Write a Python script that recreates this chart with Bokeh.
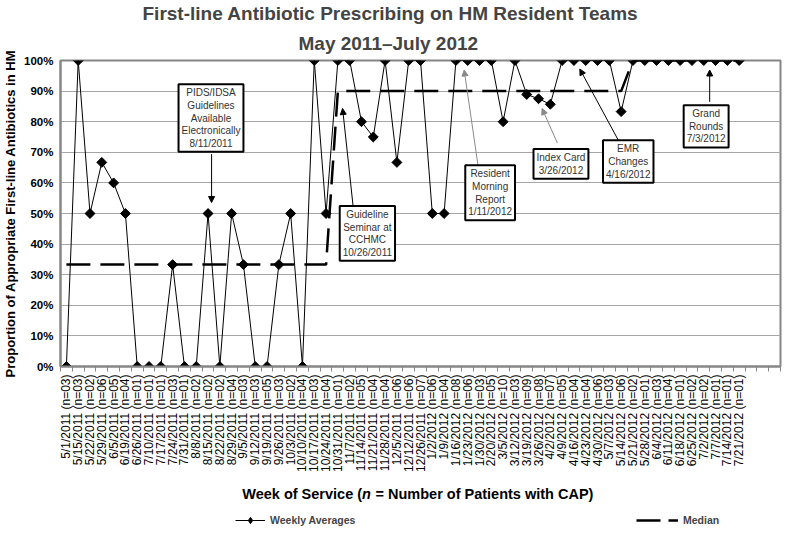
import numpy as np
from bokeh.plotting import figure
from bokeh.layouts import column
from bokeh.models import (FixedTicker, Label, Arrow, NormalHead, Legend, LegendItem,
                          Range1d, Title)
from bokeh.embed import file_html
from bokeh.resources import INLINE

# ---------------- data ----------------
weeks = ["5/1/2011", "5/15/2011", "5/22/2011", "5/29/2011", "6/5/2011", "6/19/2011",
         "6/26/2011", "7/10/2011", "7/17/2011", "7/24/2011", "7/31/2011", "8/8/2011",
         "8/15/2011", "8/22/2011", "8/29/2011", "9/5/2011", "9/12/2011", "9/19/2011",
         "9/26/2011", "10/3/2011", "10/10/2011", "10/17/2011", "10/24/2011", "10/31/2011",
         "11/7/2011", "11/14/2011", "11/21/2011", "11/28/2011", "12/5/2011", "12/12/2011",
         "12/26/2011", "1/2/2012", "1/9/2012", "1/16/2012", "1/23/2012", "1/30/2012",
         "2/20/2012", "3/5/2012", "3/12/2012", "3/19/2012", "3/26/2012", "4/2/2012",
         "4/9/2012", "4/16/2012", "4/23/2012", "4/30/2012", "5/7/2012", "5/14/2012",
         "5/21/2012", "5/28/2012", "6/4/2012", "6/11/2012", "6/18/2012", "6/25/2012",
         "7/2/2012", "7/7/2012", "7/14/2012", "7/21/2012"]
n_patients = ["03", "03", "02", "06", "05", "04", "01", "01", "01", "03", "01", "02",
              "02", "02", "04", "03", "03", "05", "03", "02", "04", "03", "04", "01",
              "02", "05", "04", "04", "06", "06", "07", "06", "04", "08", "06", "03",
              "05", "10", "03", "09", "08", "07", "05", "04", "04", "06", "03", "06",
              "02", "01", "03", "04", "01", "02", "02", "01", "01", "01"]
weekly_avg = [0, 100, 50, 66.7, 60, 50, 0, 0, 0, 33.3, 0, 0,
              50, 0, 50, 33.3, 0, 0, 33.3, 50, 0, 100, 50, 100,
              100, 80, 75, 100, 66.7, 100, 100, 50, 50, 100, 100, 100,
              100, 80, 100, 88.9, 87.5, 85.7, 100, 100, 100, 100, 100, 83.3,
              100, 100, 100, 100, 100, 100, 100, 100, 100, 100]
median = [33.3] * 23 + [90] * 25 + [100] * 10
y_ticks = [0, 10, 20, 30, 40, 50, 60, 70, 80, 90, 100]
y_tick_labels = ["0%", "10%", "20%", "30%", "40%", "50%", "60%", "70%", "80%", "90%", "100%"]
empty_slots = 3

# annotations: text, box centre (x, y), arrow start, arrow end, colour
annotations = [
    ("PIDS/IDSA\nGuidelines\nAvailable\nElectronically\n8/11/2011", (12.25, 81.2), (12.3, 69.4), (12.3, 53.6), "#000000"),
    ("Guideline\nSeminar at\nCCHMC\n10/26/2011", (25.5, 43.5), (24.3, 52.0), (23.4, 84.3), "#000000"),
    ("Resident\nMorning\nReport\n1/11/2012", (35.9, 56.8), (34.9, 65.0), (33.7, 96.9), "#8a8a8a"),
    ("Index Card\n3/26/2012", (41.9, 66.2), (41.6, 73.0), (40.3, 84.3), "#8a8a8a"),
    ("EMR\nChanges\n4/16/2012", (47.6, 67.0), (46.75, 74.0), (43.5, 97.2), "#000000"),
    ("Grand\nRounds\n7/3/2012", (54.2, 78.5), (54.5, 86.5), (54.5, 96.9), "#000000"),
]

FONT = "Liberation Sans"
GRAY = "#868686"
FW = 720

x = list(range(len(weeks)))
tick_labels = [f"{w} (n={n})" for w, n in zip(weeks, n_patients)]

p = figure(frame_width=FW, frame_height=306, output_backend="svg", toolbar_location=None,
           x_range=Range1d(-0.5, len(weeks) - 0.5 + empty_slots),
           y_range=Range1d(0, 100),
           min_border_left=0, min_border_right=4, min_border_top=54, min_border_bottom=110,
           background_fill_color="white", border_fill_color="white")

# titles (p.title is the outermost line)
p.title.text = "First-line Antibiotic Prescribing on HM Resident Teams"
p.title.align = "left"
p.title.offset = 82
p.title.text_font = FONT
p.title.text_font_size = "19px"
p.title.text_font_style = "bold"
p.title.standoff = 0
t2 = Title(text="May 2011\u2013July 2012", align="left",
           offset=238, text_font=FONT, text_font_size="19px", text_font_style="bold",
           standoff=14)
p.add_layout(t2, "above")

p.outline_line_color = GRAY
p.outline_line_width = 2

# axes
p.xaxis.ticker = FixedTicker(ticks=x, minor_ticks=[i - 0.5 for i in range(len(weeks) + empty_slots + 1)])
p.xaxis.major_label_overrides = {i: lab for i, lab in zip(x, tick_labels)}
p.xaxis.major_label_orientation = np.pi / 2
p.xaxis.major_label_text_font = FONT
p.xaxis.major_label_text_font_size = "12px"
p.xaxis.major_label_text_color = "black"
p.xaxis.major_label_standoff = 3
p.xaxis.major_tick_out = 0
p.xaxis.major_tick_in = 0
p.xaxis.minor_tick_out = 5
p.xaxis.minor_tick_in = 0
p.xaxis.minor_tick_line_color = GRAY
p.xaxis.axis_line_color = GRAY
p.xaxis.axis_line_width = 2

p.yaxis.ticker = FixedTicker(ticks=y_ticks)
p.yaxis.major_label_overrides = {t: lab for t, lab in zip(y_ticks, y_tick_labels)}
p.yaxis.major_label_text_font = FONT
p.yaxis.major_label_text_font_size = "11.5px"
p.yaxis.major_label_text_font_style = "bold"
p.yaxis.major_label_text_color = "black"
p.yaxis.major_label_standoff = 7
p.yaxis.major_tick_out = 0
p.yaxis.major_tick_in = 0
p.yaxis.minor_tick_line_color = None
p.yaxis.axis_line_color = GRAY
p.yaxis.axis_line_width = 2
p.yaxis.axis_label = "Proportion of Appropriate First-line Antibiotics in HM"
p.yaxis.axis_label_text_font = FONT
p.yaxis.axis_label_text_font_size = "13px"
p.yaxis.axis_label_text_font_style = "bold"
p.yaxis.axis_label_text_color = "black"
p.yaxis.axis_label_standoff = 3

p.xgrid.grid_line_color = None
p.ygrid.grid_line_color = "#a6a6a6"
p.ygrid.grid_line_width = 1

# series
med_r = p.line(x, median, line_color="black", line_width=2.5, line_dash="24 10")
line_r = p.line(x, weekly_avg, line_color="black", line_width=1)
pts_r = p.scatter(x, weekly_avg, marker="square", angle=np.pi / 4, size=7,
                  fill_color="black", line_color="black")

# annotations
for text, (bx, by), (xs, ys), (xe, ye), col in annotations:
    p.add_layout(Arrow(end=NormalHead(size=6, fill_color=col, line_color=col, line_width=1),
                       x_start=xs, y_start=ys, x_end=xe, y_end=ye,
                       line_color=col, line_width=1))
for text, (bx, by), (xs, ys), (xe, ye), col in annotations:
    p.add_layout(Label(x=bx, y=by, text=text, text_align="center", text_baseline="middle",
                       text_font=FONT, text_font_size="10px", text_color="#333333",
                       text_line_height=1.15,
                       border_line_color="black", border_line_width=2,
                       background_fill_color="white", padding=3))

# ---------------- bottom strip: x-axis title and legend ----------------
H2 = 56
q = figure(width=777, height=H2, output_backend="svg", toolbar_location=None,
           title=None, x_range=p.x_range, y_range=Range1d(0, H2),
           x_axis_location=None, y_axis_location=None,
           min_border_left=0, min_border_right=0, min_border_top=0, min_border_bottom=0,
           background_fill_color="white", border_fill_color="white")
q.outline_line_color = None
q.xgrid.grid_line_color = None
q.ygrid.grid_line_color = None

xt_y = 39
q.add_layout(Label(x=25.3, y=xt_y, text="Week of Service (", text_align="right",
                   text_baseline="middle", text_font=FONT, text_font_size="14.5px",
                   text_font_style="bold", text_color="black"))
q.add_layout(Label(x=25.3, y=xt_y, text="n", text_align="left",
                   text_baseline="middle", text_font=FONT, text_font_size="14.5px",
                   text_font_style="bold italic", text_color="black"))
q.add_layout(Label(x=26.45, y=xt_y, text=" = Number of Patients with CAP)", text_align="left",
                   text_baseline="middle", text_font=FONT, text_font_size="14.5px",
                   text_font_style="bold", text_color="black"))

# legend proxies (no visible data)
lg_line = q.line([np.nan], [np.nan], line_color="black", line_width=1)
lg_pts = q.scatter([np.nan], [np.nan], marker="diamond", size=10,
                   fill_color="black", line_color="black")
lg_med = q.line([np.nan], [np.nan], line_color="black", line_width=2.5, line_dash="24 8")

common = dict(orientation="horizontal", glyph_height=16, label_height=16,
              label_standoff=5, padding=0, margin=0,
              border_line_color=None, background_fill_alpha=0,
              label_text_font=FONT, label_text_font_style="bold",
              label_text_font_size="10.5px")
leg1 = Legend(items=[LegendItem(label="Weekly Averages", renderers=[lg_line, lg_pts])],
              location=(175, 4), glyph_width=30, **common)
leg2 = Legend(items=[LegendItem(label="Median", renderers=[lg_med])],
              location=(576, 4), glyph_width=42, **common)
q.add_layout(leg1)
q.add_layout(leg2)

layout = column(p, q, spacing=0)
open("out.html", "w").write(file_html(layout, INLINE))
